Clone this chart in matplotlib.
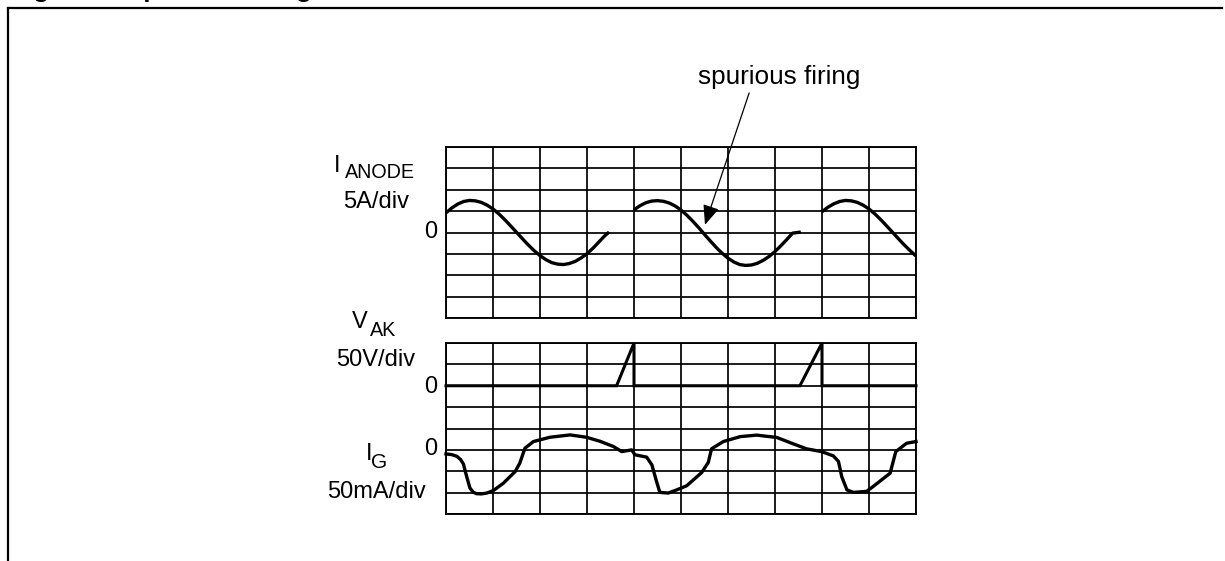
import numpy as np
import matplotlib
matplotlib.use("Agg")
import matplotlib.pyplot as plt
from matplotlib.lines import Line2D

plt.rcParams['font.family'] = ['Liberation Sans', 'DejaVu Sans']

# ---------------- data (units: divisions) ----------------
nan = np.nan
# I_ANODE trace, three conduction segments separated by NaN
anode_x = [0, .125, .25, .375, .5, .625, .75, .875, 1, 1.125, 1.25, 1.375, 1.5, 1.625, 1.75,
           1.875, 2, 2.125, 2.25, 2.375, 2.5, 2.625, 2.75, 2.875, 3, 3.125, 3.25, 3.375, 3.47,
           nan,
           4, 4.125, 4.25, 4.375, 4.5, 4.625, 4.75, 4.875, 5, 5.125, 5.25, 5.375, 5.5, 5.625, 5.75,
           5.875, 6, 6.125, 6.25, 6.375, 6.5, 6.625, 6.75, 6.875, 7, 7.125, 7.25, 7.375, 7.55,
           nan,
           8, 8.125, 8.25, 8.375, 8.5, 8.625, 8.75, 8.875, 9, 9.125, 9.25, 9.375, 9.5, 9.625, 9.75,
           9.875, 10]
anode_y = [0.92, 1.15, 1.33, 1.45, 1.50, 1.48, 1.41, 1.28, 1.10, 0.87, 0.60, 0.31, 0.01, -0.29, -0.58,
           -0.85, -1.08, -1.27, -1.41, -1.48, -1.50, -1.45, -1.35, -1.19, -0.99, -0.74, -0.45, -0.16, 0.02,
           nan,
           1.06, 1.25, 1.39, 1.47, 1.49, 1.46, 1.38, 1.24, 1.05, 0.81, 0.53, 0.23, -0.09, -0.40, -0.70,
           -0.97, -1.20, -1.38, -1.50, -1.54, -1.52, -1.44, -1.30, -1.12, -0.89, -0.62, -0.33, -0.03, 0.02,
           nan,
           0.97, 1.18, 1.34, 1.45, 1.50, 1.48, 1.41, 1.28, 1.10, 0.87, 0.60, 0.31, 0.01, -0.29, -0.58,
           -0.85, -1.10]

# V_AK trace
vak_x = [0, 3.63, 4.0, 4.0, 7.53, 8.0, 8.0, 10]
vak_y = [0, 0, 2.0, 0, 0, 2.0, 0, 0]

# I_G trace
ig_x = [0, 0.12, 0.23, 0.31, 0.37, 0.44, 0.51, 0.58, 0.65, 0.75, 0.87, 1.01, 1.22, 1.47, 1.57,
        1.68, 1.86, 2.21, 2.64, 2.99, 3.28, 3.56, 3.74, 3.95, 4.02, 4.27, 4.38, 4.48, 4.55,
        4.73, 4.91, 5.12, 5.44, 5.58, 5.65, 5.90, 6.26, 6.61, 7.04, 7.39, 7.67, 7.99, 8.24,
        8.35, 8.42, 8.53, 8.67, 8.95, 9.09, 9.45, 9.57, 9.80, 10.0]
ig_y = [-0.19, -0.22, -0.30, -0.45, -0.66, -1.25, -1.79, -1.98, -2.05, -2.06, -2.02, -1.90, -1.56, -1.02, -0.62,
        0.08, 0.39, 0.59, 0.70, 0.59, 0.40, 0.16, -0.08, 0.0, -0.23, -0.34, -0.70, -1.48, -1.99,
        -2.02, -1.87, -1.68, -1.06, -0.59, 0.05, 0.39, 0.62, 0.69, 0.58, 0.28, 0.05, -0.08, -0.28,
        -0.54, -1.25, -1.87, -1.99, -1.94, -1.71, -1.09, -0.08, 0.31, 0.39]

label_anode = ("I", "ANODE", "5A/div")
label_vak = ("V", "AK", "50V/div")
label_ig = ("I", "G", "50mA/div")
zero_label = "0"
annot_text = "spurious firing"
title_text = "Figure 4. Spurious firing"

# ---------------- figure ----------------
W, H = 1225, 561
fig = plt.figure(figsize=(W / 100, H / 100), dpi=100)

def fx(x):
    return x / W

def fy(y):
    return 1 - y / H

def grid_axes(top, bottom, ylim):
    ax = fig.add_axes([fx(446), fy(bottom), fx(916) - fx(446), fy(top) - fy(bottom)])
    ax.set_xlim(0, 10)
    ax.set_ylim(*ylim)
    ax.set_xticks(np.arange(0, 11))
    ax.set_yticks(np.arange(ylim[0], ylim[1] + 1))
    ax.grid(True, color='black', lw=1.25)
    ax.tick_params(length=0, labelbottom=False, labelleft=False)
    for s in ax.spines.values():
        s.set_linewidth(1.35)
        s.set_color('black')
    ax.set_axisbelow(True)
    return ax

ax1 = grid_axes(147, 318, (-4, 4))
ax1.plot(anode_x, anode_y, color='black', lw=2.4, clip_on=False, solid_capstyle='butt')

ax2 = grid_axes(343, 514, (-6, 2))
ax2.plot(vak_x, vak_y, color='black', lw=2.2, clip_on=False, solid_joinstyle='miter')

ax3 = ax2.twinx()
ax3.set_ylim(-3, 5)
ax3.set_axis_off()
ax3.plot(ig_x, ig_y, color='black', lw=2.4, clip_on=False)

# arrow
ax1.annotate('', xy=(5.51, 0.36), xytext=(6.45, 6.53), annotation_clip=False,
             arrowprops=dict(arrowstyle='-|>,head_length=0.6,head_width=0.25', color='black',
                             lw=0.9, shrinkA=0, shrinkB=0, mutation_scale=20))

main_fs = 17
sub_fs = 14.2

def txt(x, y, s, size, ha='left', weight='normal'):
    fig.text(fx(x), fy(y), s, fontsize=size, ha=ha, va='baseline', color='black', fontweight=weight)

txt(334, 172, label_anode[0], main_fs)
txt(344.5, 177.5, label_anode[1], sub_fs)
txt(376, 208, label_anode[2], main_fs, ha='center')
txt(430.8, 237.5, zero_label, main_fs, ha='center')

txt(352, 328.5, label_vak[0], main_fs)
txt(370, 335.5, label_vak[1], sub_fs)
txt(376, 366, label_vak[2], main_fs, ha='center')
txt(430.8, 393, zero_label, main_fs, ha='center')

txt(365.5, 460, label_ig[0], main_fs)
txt(371, 467.5, label_ig[1], 15)
txt(376.5, 498.5, label_ig[2], main_fs, ha='center')
txt(430.8, 455, zero_label, main_fs, ha='center')

txt(779, 84, annot_text, 18.8, ha='center')

# cut-off title (only descenders visible, as in the reference)
txt(10, -3.5, title_text, 18.7, weight='bold')

# frame (top and left edges)
fig.add_artist(Line2D([fx(8), fx(1222)], [fy(8), fy(8)], color='black', lw=1.6,
                      transform=fig.transFigure, solid_capstyle='projecting'))
fig.add_artist(Line2D([fx(8), fx(8)], [fy(8), fy(565)], color='black', lw=1.6,
                      transform=fig.transFigure, solid_capstyle='projecting'))

fig.savefig('out.png', dpi=100, facecolor='white')
